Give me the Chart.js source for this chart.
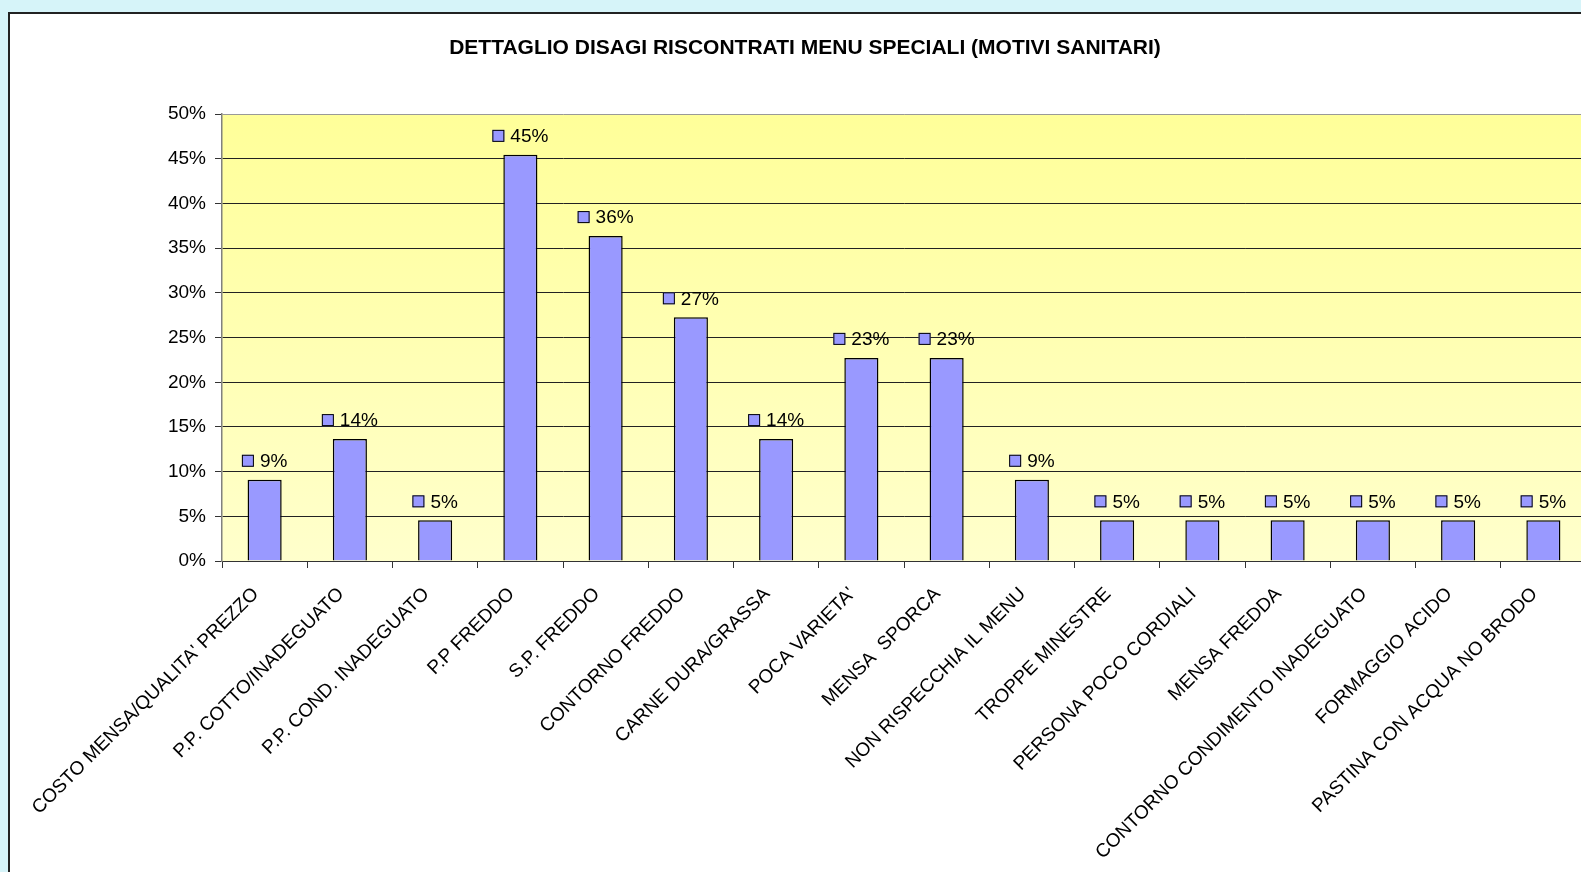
<!DOCTYPE html>
<html>
<head>
<meta charset="utf-8">
<script src="https://cdn.jsdelivr.net/npm/chart.js@4"></script>
<style>
  html, body { margin: 0; padding: 0; overflow: hidden; }
  body { width: 1581px; height: 872px; background: #d6f4f9; position: relative; }
  #panel { position: absolute; left: 8px; top: 12px; width: 1620px; height: 900px;
           border: 2px solid #222; background: #fff; }
  #wrap { position: absolute; left: 0; top: 0; width: 1604px; height: 858px; }
</style>
</head>
<body>
<div id="panel"><div id="wrap"><canvas id="disagiChart"></canvas></div></div>
<script>
const chartTitle = 'DETTAGLIO DISAGI RISCONTRATI MENU SPECIALI (MOTIVI SANITARI)';
const categories = [
  "COSTO MENSA/QUALITA' PREZZO",
  'P.P. COTTO/INADEGUATO',
  'P.P. COND. INADEGUATO',
  'P.P FREDDO',
  'S.P. FREDDO',
  'CONTORNO FREDDO',
  'CARNE DURA/GRASSA',
  "POCA VARIETA'",
  'MENSA  SPORCA',
  'NON RISPECCHIA IL MENU',
  'TROPPE MINESTRE',
  'PERSONA POCO CORDIALI',
  'MENSA FREDDA',
  'CONTORNO CONDIMENTO INADEGUATO',
  'FORMAGGIO ACIDO',
  'PASTINA CON ACQUA NO BRODO'
];
const percentages = [9.09, 13.64, 4.55, 45.45, 36.36, 27.27, 13.64, 22.73, 22.73, 9.09, 4.55, 4.55, 4.55, 4.55, 4.55, 4.55];
const yTicks = [0, 5, 10, 15, 20, 25, 30, 35, 40, 45, 50];

const FONT = "'Liberation Sans', Arial, sans-serif";
const BAR_FILL = '#9999ff';

// yellow gradient behind the plot
const plotBackground = {
  id: 'plotBackground',
  beforeDraw(chart) {
    const { ctx, chartArea: a } = chart;
    const g = ctx.createLinearGradient(0, a.top, 0, a.bottom);
    g.addColorStop(0, '#ffff99');
    g.addColorStop(1, '#ffffcc');
    ctx.save();
    ctx.fillStyle = g;
    ctx.fillRect(a.left, a.top, a.right - a.left, a.bottom - a.top);
    ctx.restore();
  }
};

// value labels with a small legend key in front
const valueLabels = {
  id: 'valueLabels',
  afterDatasetsDraw(chart) {
    const ctx = chart.ctx;
    const meta = chart.getDatasetMeta(0);
    ctx.save();
    ctx.font = '19px ' + FONT;
    ctx.textBaseline = 'middle';
    ctx.textAlign = 'left';
    meta.data.forEach((bar, i) => {
      const txt = Math.round(percentages[i]) + '%';
      const tw = ctx.measureText(txt).width;
      const sq = 12, gap = 6;
      const x0 = bar.x - (sq + gap + tw) / 2;
      const cy = bar.y - 19;
      ctx.fillStyle = BAR_FILL;
      ctx.fillRect(x0, cy - sq / 2, sq, sq);
      ctx.strokeStyle = '#000';
      ctx.lineWidth = 1;
      ctx.strokeRect(x0 + 0.5, cy - sq / 2 + 0.5, sq - 1, sq - 1);
      ctx.fillStyle = '#000';
      ctx.fillText(txt, x0 + sq + gap, cy + 1);
    });
    ctx.restore();
  }
};

const ctx = document.getElementById('disagiChart').getContext('2d');
new Chart(ctx, {
  type: 'bar',
  data: {
    labels: categories,
    datasets: [{
      data: percentages,
      backgroundColor: BAR_FILL,
      borderColor: '#000',
      borderWidth: 1.5,
      categoryPercentage: 1,
      barPercentage: 0.4
    }]
  },
  plugins: [plotBackground, valueLabels],
  options: {
    responsive: true,
    maintainAspectRatio: false,
    animation: false,
    layout: { padding: { left: 14, right: 28, top: 0, bottom: 0 } },
    plugins: {
      legend: { display: false },
      tooltip: { enabled: false },
      title: {
        display: true,
        text: chartTitle,
        color: '#000',
        font: { family: FONT, size: 21, weight: 'bold' },
        padding: { top: 22, bottom: 53 }
      }
    },
    scales: {
      x: {
        afterFit(scale) { scale.height = 311; },
        grid: { drawOnChartArea: false, color: '#333', tickLength: 7, offset: true },
        border: { color: '#333', width: 1 },
        ticks: {
          autoSkip: false,
          minRotation: 45,
          maxRotation: 45,
          color: '#000',
          padding: 15,
          labelOffset: -9,
          font: { family: FONT, size: 19 }
        }
      },
      y: {
        min: 0,
        max: 50,
        afterFit(scale) { scale.width = 198; },
        afterBuildTicks(scale) { scale.ticks = yTicks.map(v => ({ value: v })); },
        grid: {
          color: c => (c.tick && c.tick.value === 50 ? '#999' : '#222'),
          tickColor: '#333',
          tickLength: 7
        },
        border: { color: '#808080', width: 1.5 },
        ticks: {
          color: '#000',
          padding: 9,
          font: { family: FONT, size: 19 },
          callback: v => v + '%'
        }
      }
    }
  }
});
</script>
</body>
</html>
